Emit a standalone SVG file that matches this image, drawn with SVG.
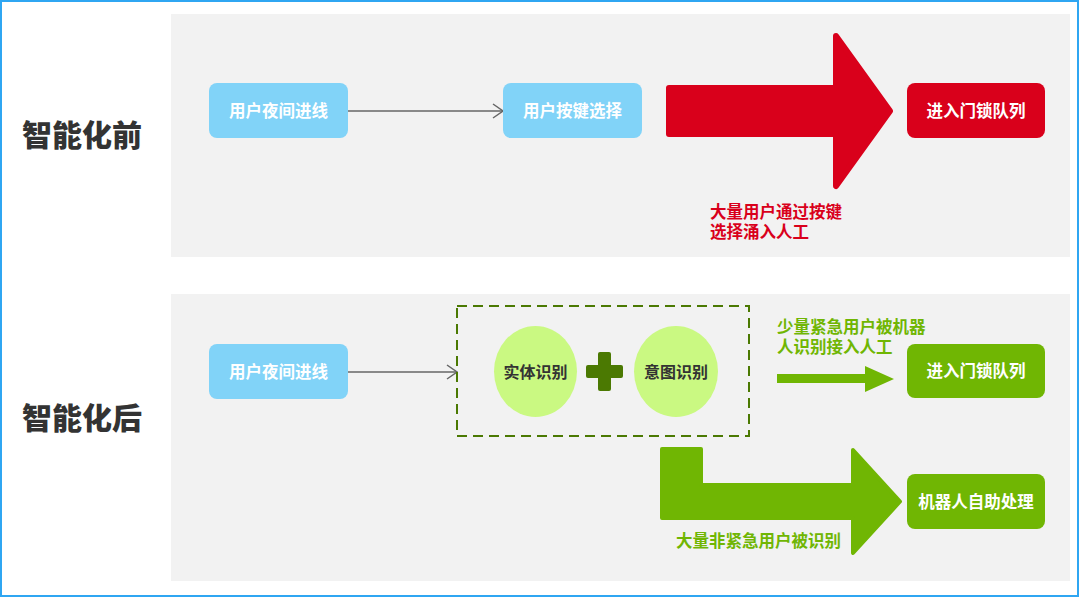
<svg xmlns="http://www.w3.org/2000/svg" width="1080" height="598" viewBox="0 0 1080 598">
<style>
.f{font-family:"Noto Sans CJK SC","Noto Sans",sans-serif;font-weight:bold}
.title{font-size:30px;fill:#333333;font-weight:900}
.nl{font-size:16.5px;fill:#FFFFFF}
.dl{font-size:16px;fill:#333333}
.rt{font-size:16.5px;fill:#D9001B}
.gt{font-size:16.5px;fill:#70B603}
.blue{fill:#81D3F8}
.red{fill:#D9001B}
.green{fill:#70B603}
.lime{fill:#CAF982}
.conn{stroke:#666666;stroke-width:1.5;fill:none}
</style>
<defs>
<marker id="chev" viewBox="0 0 12 16" refX="11" refY="8" markerWidth="12" markerHeight="16" markerUnits="userSpaceOnUse" orient="auto">
<path d="M1,1 L11,8 L1,15" fill="none" stroke="#666666" stroke-width="1.5"/>
</marker>
</defs>
<rect x="0" y="0" width="1080" height="598" fill="#FFFFFF"/>
<rect x="1" y="1" width="1077" height="595" fill="none" stroke="#2FA6F2" stroke-width="2"/>
<g id="panel-before"><rect x="171" y="14" width="899" height="243" fill="#F2F2F2"/></g>
<g id="panel-after"><rect x="171" y="294" width="899" height="287" fill="#F2F2F2"/></g>
<g id="title-before"><text class="f title" x="22" y="146">智能化前</text></g>
<g id="title-after"><text class="f title" x="22" y="429">智能化后</text></g>

<g id="connectors">
<line class="conn" x1="348" y1="111" x2="503" y2="111" marker-end="url(#chev)"/>
<line class="conn" x1="348" y1="372" x2="457" y2="372" marker-end="url(#chev)"/>
<path id="red-arrow" class="red" stroke="#D9001B" stroke-width="6" stroke-linejoin="round" d="M669,88 L836,88 L836,36 L890,111 L836,186 L836,134 L669,134 Z"/>
<path id="green-small-arrow" class="green" d="M777,374 L865,374 L865,366 L894,379 L865,392 L865,383 L777,383 Z"/>
<path id="green-big-arrow" class="green" stroke="#70B603" stroke-width="4" stroke-linejoin="round" d="M662,449 L701,449 L701,485 L853,485 L853,450 L900,501.5 L853,553 L853,518 L662,518 Z"/>
</g>

<g id="n1"><rect class="blue" x="209" y="83" width="139" height="55" rx="8"/><text class="f nl" x="278.5" y="117" text-anchor="middle">用户夜间进线</text></g>
<g id="n2"><rect class="blue" x="503" y="83" width="139" height="55" rx="8"/><text class="f nl" x="572.5" y="117" text-anchor="middle">用户按键选择</text></g>
<g id="n3"><rect class="red" x="907" y="83" width="138" height="55" rx="8"/><text class="f nl" x="976" y="117" text-anchor="middle">进入门锁队列</text></g>
<g id="red-label"><text class="f rt"><tspan x="710" y="218">大量用户通过按键</tspan><tspan x="710" y="238">选择涌入人工</tspan></text></g>

<g id="n4"><rect class="blue" x="209" y="344" width="139" height="55" rx="8"/><text class="f nl" x="278.5" y="378" text-anchor="middle">用户夜间进线</text></g>
<g id="group-box"><rect x="457" y="306" width="292" height="130" fill="none" stroke="#4B7902" stroke-width="2" stroke-dasharray="10,6"/></g>
<g id="e1"><ellipse class="lime" cx="535.5" cy="371.5" rx="41.5" ry="45.5"/><text class="f dl" x="535.5" y="377.5" text-anchor="middle">实体识别</text></g>
<g id="plus"><rect x="586" y="365" width="37" height="13" fill="#4B7902" rx="2"/><rect x="598" y="352" width="13" height="39" fill="#4B7902" rx="2"/></g>
<g id="e2"><ellipse class="lime" cx="676" cy="371.5" rx="42" ry="45.5"/><text class="f dl" x="676" y="377.5" text-anchor="middle">意图识别</text></g>
<g id="green-label1"><text class="f gt"><tspan x="777" y="333">少量紧急用户被机器</tspan><tspan x="777" y="353">人识别接入人工</tspan></text></g>
<g id="n5"><rect class="green" x="907" y="344" width="138" height="54" rx="8"/><text class="f nl" x="976" y="377" text-anchor="middle">进入门锁队列</text></g>
<g id="n6"><rect class="green" x="907" y="474" width="138" height="55" rx="8"/><text class="f nl" x="976" y="508" text-anchor="middle">机器人自助处理</text></g>
<g id="green-label2"><text class="f gt" x="676" y="547">大量非紧急用户被识别</text></g>
</svg>
